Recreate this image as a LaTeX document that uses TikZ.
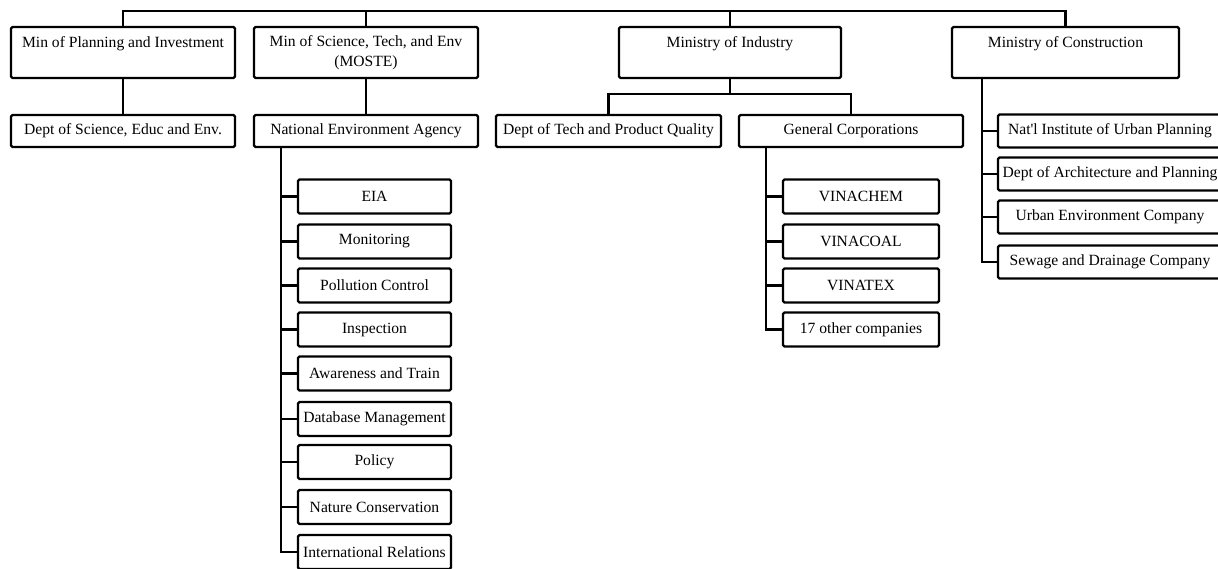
\documentclass[tikz,border=0pt]{standalone}
\usepackage{fontspec}
\setmainfont{Liberation Serif}
\begin{document}
\begin{tikzpicture}[x=1pt,y=-1pt,
  box/.style={draw,line width=2.3pt,rounded corners=1.5pt,inner sep=0pt,align=center,
    font=\fontsize{15.6}{20}\selectfont},
  topbox/.style={box,minimum height=51pt},
  rowbox/.style={box,minimum height=32pt},
  leaf/.style={box,minimum height=34pt},
  conn/.style={line width=2.4pt}]
\useasboundingbox (0,0) rectangle (1218,569);
\clip (0,0) rectangle (1218,569);
% top level
\node[topbox,minimum width=224pt] (t1) at (123,52.5) {Min of Planning and Investment\\\mbox{}};
\node[topbox,minimum width=224pt] (t2) at (366,52.5) {Min of Science, Tech, and Env\\(MOSTE)};
\node[topbox,minimum width=222pt] (t3) at (730,52.5) {Ministry of Industry\\\mbox{}};
\node[topbox,minimum width=227pt] (t4) at (1065.5,52.5) {Ministry of Construction\\\mbox{}};
% second row
\node[rowbox,minimum width=224pt] (dsed) at (123,131) {Dept of Science, Educ and Env.};
\node[rowbox,minimum width=224pt] (nea) at (366,131) {National Environment Agency};
\node[rowbox,minimum width=225pt] (dtpq) at (608.5,131) {Dept of Tech and Product Quality};
\node[rowbox,minimum width=224pt] (gc) at (851,131) {General Corporations};
% construction children
\node[rowbox,minimum height=33pt,minimum width=224pt] (c1) at (1110,131) {Nat\textquotesingle l Institute of Urban Planning};
\node[rowbox,minimum height=33pt,minimum width=224pt] (c2) at (1110,174) {Dept of Architecture and Planning};
\node[rowbox,minimum height=33pt,minimum width=224pt] (c3) at (1110,217) {Urban Environment Company};
\node[rowbox,minimum height=33pt,minimum width=224pt] (c4) at (1110,262) {Sewage and Drainage Company};
% NEA children
\foreach \n/\y/\t in {n1/196.5/EIA, n2/241.5/Monitoring, n3/285.5/Pollution Control,
  n4/329.5/Inspection, n5/373.5/Awareness and Train, n6/419/Database Management,
  n7/462/Policy, n8/507/Nature Conservation, n9/552/International Relations}
  \node[leaf,minimum width=153pt] (\n) at (374.5,\y) {\t};
% GC children
\foreach \n/\y/\t in {g1/196.5/VINACHEM, g2/241.5/VINACOAL, g3/285.5/VINATEX, g4/329.5/17 other companies}
  \node[leaf,minimum width=156pt] (\n) at (861,\y) {\t};
% connectors
\coordinate (bus) at (0,11);
\coordinate (y94) at (0,94);
\draw[conn] (t1.north) |- (t4.north |- bus) -- (t4.north);
\draw[conn] (t2.north) -- (t2.north |- bus);
\draw[conn] (t3.north) -- (t3.north |- bus);
\draw[conn] (t1.south) -- (dsed.north);
\draw[conn] (t2.south) -- (nea.north);
\draw[conn] (t3.south) -- (t3.south |- y94);
\draw[conn] (dtpq.north) |- (gc.north |- y94) -- (gc.north);
% NEA stem
\coordinate (sn) at (281,147);
\draw[conn] (sn) |- (n9.west);
\foreach \n in {n1,n2,n3,n4,n5,n6,n7,n8}
  \draw[conn] (sn |- \n.west) -- (\n.west);
% GC stem
\coordinate (sg) at (766,147);
\draw[conn] (sg) |- (g4.west);
\foreach \n in {g1,g2,g3}
  \draw[conn] (sg |- \n.west) -- (\n.west);
% construction stem
\coordinate (sc) at (982,78);
\draw[conn] (sc) |- (c4.west);
\foreach \n in {c1,c2,c3}
  \draw[conn] (sc |- \n.west) -- (\n.west);
\end{tikzpicture}
\end{document}
